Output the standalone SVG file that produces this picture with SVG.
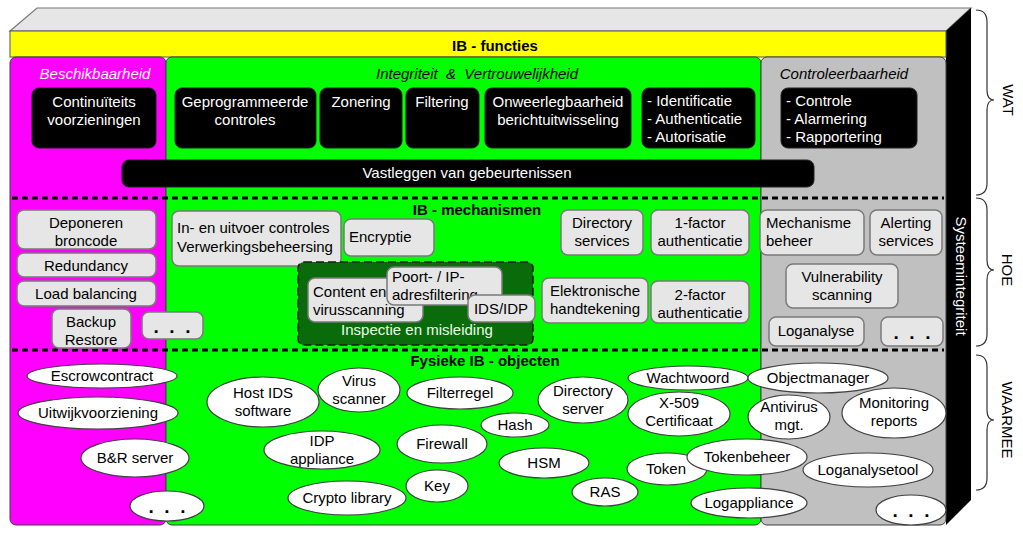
<svg xmlns="http://www.w3.org/2000/svg" width="1023" height="533" viewBox="0 0 1023 533">
<style>
text{font-family:"Liberation Sans",Arial,sans-serif;font-size:15px}
.c{text-anchor:middle}
.w{fill:#fff}
.b{font-weight:bold}
.i{font-style:italic}
.blk{fill:#000;stroke:#222;stroke-width:1}
.mech{fill:#e6e6e6;stroke:#7a7a7a;stroke-width:1.5}
.ell{fill:#fff;stroke:#404040;stroke-width:1.2}
.dash{stroke:#000;stroke-width:3;stroke-dasharray:6 4;fill:none}
.brace{fill:none;stroke:#333;stroke-width:1.2}
.dots{font-weight:bold;font-size:19px}
</style>
<rect width="1023" height="533" fill="#fff"/>
<g id="box3d">
<polygon points="10,31 37,8 971,8 946,31" fill="#e6e6e6" stroke="#777" stroke-width="1.2"/>
<polygon points="946,31 971,8 971,500 946,525" fill="#000"/>
<rect x="10" y="31" width="936" height="26" fill="#ffff00" stroke="#555" stroke-width="1"/>
<text class="c b" x="495" y="51">IB - functies</text>
<rect x="10" y="57" width="156" height="468" rx="6" fill="#ff00ff" stroke="#404040" stroke-width="1"/>
<rect x="166" y="57" width="595" height="468" rx="6" fill="#00ff00" stroke="#404040" stroke-width="1"/>
<rect x="761" y="57" width="185" height="468" rx="6" fill="#c0c0c0" stroke="#404040" stroke-width="1"/>
<text class="c i w" x="95" y="79">Beschikbaarheid</text>
<text class="c i" x="477" y="79" xml:space="preserve">Integriteit  &amp;  Vertrouwelijkheid</text>
<text class="c i" x="844" y="79">Controleerbaarheid</text>
<text class="w" transform="translate(956,276) rotate(90)" text-anchor="middle">Systeemintegriteit</text>
</g>
<g id="separators">
<line class="dash" x1="12" y1="198" x2="944" y2="198"/>
<line class="dash" x1="12" y1="350" x2="944" y2="350"/>
<text class="c b" x="477" y="215">IB - mechanismen</text>
<text class="c b" x="485" y="366">Fysieke IB - objecten</text>
</g>
<g id="functies">
<g id="f-continuiteit"><rect class="blk" x="32" y="88" width="124" height="60" rx="7"/><text class="c w" x="94" y="107">Continuïteits</text><text class="c w" x="94" y="125">voorzieningen</text></g>
<g id="f-geprogrammeerd"><rect class="blk" x="175" y="88" width="141" height="60" rx="7"/><text class="c w" x="245" y="107">Geprogrammeerde</text><text class="c w" x="245" y="125">controles</text></g>
<g id="f-zonering"><rect class="blk" x="320" y="88" width="82" height="60" rx="7"/><text class="c w" x="361" y="107">Zonering</text></g>
<g id="f-filtering"><rect class="blk" x="406" y="88" width="73" height="60" rx="7"/><text class="c w" x="442" y="107">Filtering</text></g>
<g id="f-onweerlegbaarheid"><rect class="blk" x="485" y="88" width="146" height="60" rx="7"/><text class="c w" x="558" y="107">Onweerlegbaarheid</text><text class="c w" x="558" y="125">berichtuitwisseling</text></g>
<g id="f-identificatie"><rect class="blk" x="642" y="88" width="113" height="60" rx="7"/><text class="w" x="647" y="106">- Identificatie</text><text class="w" x="647" y="124">- Authenticatie</text><text class="w" x="647" y="142">- Autorisatie</text></g>
<g id="f-controle"><rect class="blk" x="781" y="88" width="136" height="60" rx="7"/><text class="w" x="786" y="106">- Controle</text><text class="w" x="786" y="124">- Alarmering</text><text class="w" x="786" y="142">- Rapportering</text></g>
<g id="f-vastleggen"><rect class="blk" x="122" y="160" width="692" height="27" rx="7"/><text class="c w" x="467" y="178">Vastleggen van gebeurtenissen</text></g>
</g>
<g id="mechanismen">
<g id="m-deponeren"><rect class="mech" x="17" y="210" width="139" height="39" rx="7"/><text class="c" x="86" y="228">Deponeren</text><text class="c" x="86" y="246">broncode</text></g>
<g id="m-redundancy"><rect class="mech" x="17" y="253" width="139" height="24" rx="7"/><text class="c" x="86" y="271">Redundancy</text></g>
<g id="m-loadbalancing"><rect class="mech" x="17" y="281" width="139" height="25" rx="7"/><text class="c" x="86" y="299">Load balancing</text></g>
<g id="m-backup"><rect class="mech" x="52" y="309" width="79" height="39" rx="7"/><text class="c" x="91" y="327">Backup</text><text class="c" x="91" y="345">Restore</text></g>
<g id="m-dots1"><rect class="mech" x="142" y="312" width="61" height="27" rx="7"/><text class="c dots" x="172" y="333" xml:space="preserve">.  .  .</text></g>
<g id="m-inuitvoer"><rect class="mech" x="172" y="211" width="169" height="55" rx="7"/><text x="177" y="233">In- en uitvoer controles</text><text x="177" y="252">Verwerkingsbeheersing</text></g>
<g id="m-encryptie"><rect class="mech" x="344" y="219" width="90" height="37" rx="7"/><text x="349" y="242">Encryptie</text></g>
<g id="m-inspectie">
<rect x="298" y="262" width="235" height="83" rx="6" fill="#0a6b0a" stroke="#1a1a1a" stroke-width="1.5" stroke-dasharray="8 4"/>
<text class="c" x="417" y="335" fill="#e8ffe8">Inspectie en misleiding</text>
</g>
<g id="m-content"><rect class="mech" x="308" y="278" width="115" height="44" rx="7"/><text x="313" y="297">Content en</text><text x="313" y="315">virusscanning</text></g>
<g id="m-poort"><rect class="mech" x="387" y="267" width="115" height="38" rx="7"/><text x="392" y="282">Poort- / IP-</text><text x="392" y="300">adresfiltering</text></g>
<g id="m-idsidp"><rect class="mech" x="468" y="295" width="67" height="27" rx="7"/><text class="c" x="501" y="314">IDS/IDP</text></g>
<g id="m-directory"><rect class="mech" x="561" y="210" width="82" height="45" rx="7"/><text class="c" x="602" y="228">Directory</text><text class="c" x="602" y="246">services</text></g>
<g id="m-1factor"><rect class="mech" x="651" y="210" width="98" height="45" rx="7"/><text class="c" x="700" y="228">1-factor</text><text class="c" x="700" y="246">authenticatie</text></g>
<g id="m-elektronisch"><rect class="mech" x="542" y="278" width="106" height="45" rx="7"/><text class="c" x="595" y="296">Elektronische</text><text class="c" x="595" y="314">handtekening</text></g>
<g id="m-2factor"><rect class="mech" x="651" y="281" width="98" height="42" rx="7"/><text class="c" x="700" y="300">2-factor</text><text class="c" x="700" y="318">authenticatie</text></g>
<g id="m-mechbeheer"><rect class="mech" x="760" y="210" width="104" height="45" rx="7"/><text x="766" y="228">Mechanisme</text><text x="766" y="246">beheer</text></g>
<g id="m-alerting"><rect class="mech" x="870" y="210" width="72" height="45" rx="7"/><text class="c" x="906" y="228">Alerting</text><text class="c" x="906" y="246">services</text></g>
<g id="m-vulnerability"><rect class="mech" x="786" y="264" width="112" height="44" rx="7"/><text class="c" x="842" y="282">Vulnerability</text><text class="c" x="842" y="300">scanning</text></g>
<g id="m-loganalyse"><rect class="mech" x="769" y="317" width="95" height="29" rx="7"/><text class="c" x="816" y="336">Loganalyse</text></g>
<g id="m-dots2"><rect class="mech" x="881" y="317" width="62" height="29" rx="7"/><text class="c dots" x="912" y="339" xml:space="preserve">.  .  .</text></g>
</g>
<g id="objecten">
<g id="o-escrow"><ellipse class="ell" cx="102" cy="376" rx="75" ry="12"/><text class="c" x="102" y="381">Escrowcontract</text></g>
<g id="o-uitwijk"><ellipse class="ell" cx="98" cy="413" rx="80" ry="16"/><text class="c" x="98" y="418">Uitwijkvoorziening</text></g>
<g id="o-br"><ellipse class="ell" cx="135" cy="458" rx="54" ry="19"/><text class="c" x="135" y="463">B&amp;R server</text></g>
<g id="o-dots1"><ellipse class="ell" cx="167" cy="506" rx="37" ry="15"/><text class="c dots" x="167" y="513" xml:space="preserve">.  .  .</text></g>
<g id="o-hostids"><ellipse class="ell" cx="263" cy="402" rx="56" ry="25"/><text class="c" x="263" y="398">Host IDS</text><text class="c" x="263" y="416">software</text></g>
<g id="o-virus"><ellipse class="ell" cx="359" cy="390" rx="41" ry="22"/><text class="c" x="359" y="386">Virus</text><text class="c" x="359" y="404">scanner</text></g>
<g id="o-filterregel"><ellipse class="ell" cx="460" cy="393" rx="53" ry="16"/><text class="c" x="460" y="398">Filterregel</text></g>
<g id="o-directory"><ellipse class="ell" cx="583" cy="400" rx="45" ry="23"/><text class="c" x="583" y="396">Directory</text><text class="c" x="583" y="414">server</text></g>
<g id="o-x509"><ellipse class="ell" cx="679" cy="414" rx="51" ry="22"/><text class="c" x="679" y="408">X-509</text><text class="c" x="679" y="426">Certificaat</text></g>
<g id="o-wachtwoord"><ellipse class="ell" cx="688" cy="378" rx="60" ry="12"/><text class="c" x="688" y="383">Wachtwoord</text></g>
<g id="o-hash"><ellipse class="ell" cx="515" cy="425" rx="34" ry="12"/><text class="c" x="515" y="430">Hash</text></g>
<g id="o-idp"><ellipse class="ell" cx="322" cy="450" rx="58" ry="19"/><text class="c" x="322" y="446">IDP</text><text class="c" x="322" y="464">appliance</text></g>
<g id="o-firewall"><ellipse class="ell" cx="442" cy="444" rx="45" ry="19"/><text class="c" x="442" y="449">Firewall</text></g>
<g id="o-hsm"><ellipse class="ell" cx="544" cy="463" rx="45" ry="15"/><text class="c" x="544" y="468">HSM</text></g>
<g id="o-crypto"><ellipse class="ell" cx="347" cy="498" rx="59" ry="17"/><text class="c" x="347" y="503">Crypto library</text></g>
<g id="o-key"><ellipse class="ell" cx="437" cy="486" rx="31" ry="16"/><text class="c" x="437" y="491">Key</text></g>
<g id="o-ras"><ellipse class="ell" cx="605" cy="492" rx="33" ry="14"/><text class="c" x="605" y="497">RAS</text></g>
<g id="o-token"><ellipse class="ell" cx="667" cy="469" rx="40" ry="16"/><text class="c" x="666" y="474">Token</text></g>
<g id="o-tokenbeheer"><ellipse class="ell" cx="747" cy="457" rx="60" ry="18"/><text class="c" x="747" y="462">Tokenbeheer</text></g>
<g id="o-logappliance"><ellipse class="ell" cx="749" cy="503" rx="58" ry="15"/><text class="c" x="749" y="508">Logappliance</text></g>
<g id="o-objectmanager"><ellipse class="ell" cx="818" cy="378" rx="70" ry="15"/><text class="c" x="818" y="383">Objectmanager</text></g>
<g id="o-antivirus"><ellipse class="ell" cx="789" cy="417" rx="41" ry="22"/><text class="c" x="789" y="412">Antivirus</text><text class="c" x="789" y="430">mgt.</text></g>
<g id="o-monitoring"><ellipse class="ell" cx="894" cy="413" rx="52" ry="25"/><text class="c" x="894" y="408">Monitoring</text><text class="c" x="894" y="426">reports</text></g>
<g id="o-loganalysetool"><ellipse class="ell" cx="868" cy="470" rx="65" ry="17"/><text class="c" x="868" y="475">Loganalysetool</text></g>
<g id="o-dots2"><ellipse class="ell" cx="911" cy="510" rx="35" ry="15"/><text class="c dots" x="911" y="517" xml:space="preserve">.  .  .</text></g>
</g>
<g id="braces">
<path class="brace" d="M976 10 Q987 10 987 22 L987 90 Q987 100 994 100 Q987 100 987 110 L987 183 Q987 195 976 195"/>
<path class="brace" d="M976 198 Q987 198 987 210 L987 260 Q987 270 994 270 Q987 270 987 280 L987 334 Q987 346 976 346"/>
<path class="brace" d="M976 355 Q987 355 987 367 L987 410 Q987 420 994 420 Q987 420 987 430 L987 478 Q987 490 976 490"/>
<text transform="translate(1003,100) rotate(90)" text-anchor="middle">WAT</text>
<text transform="translate(1002,270) rotate(90)" text-anchor="middle">HOE</text>
<text transform="translate(1002,420) rotate(90)" text-anchor="middle">WAARMEE</text>
</g>
</svg>
